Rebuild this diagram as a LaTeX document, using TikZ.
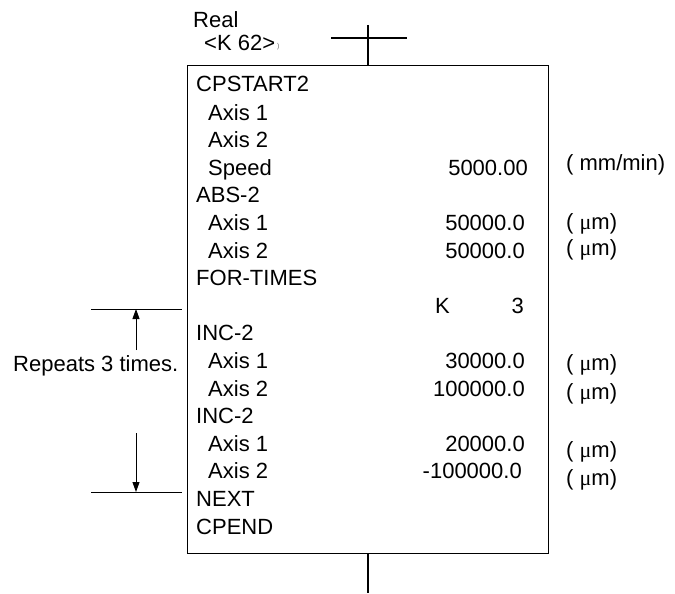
\documentclass[tikz,border=0pt]{standalone}
\usepackage{fontspec}
\setmainfont{Liberation Sans}
\newfontfamily\greekfont{Liberation Serif}
\usepackage{tikz}
\usetikzlibrary{arrows.meta}

\begin{document}
\begin{tikzpicture}[
    x=1pt, y=-1pt,
    every node/.style={inner sep=0pt, font=\fontsize{22}{26}\selectfont},
    cmd/.style={anchor=base west},
    sub/.style={anchor=base west, xshift=12pt},
    val/.style={anchor=base east},
    unit/.style={anchor=base west},
    progbox/.style={draw, line width=1pt, minimum width=361pt,
                    minimum height=488pt, anchor=north west},
    flow/.style={draw, line width=1.6pt},
    thin/.style={draw, line width=0.9pt},
    loop/.style={draw, line width=0.9pt, -{Triangle[length=10pt, width=7pt]}},
]
\useasboundingbox (0,0) rectangle (675,594);

% header above the program box
\node [cmd] (real) at (193,28) {Real};
\node [cmd] (kaddr) at (204,51) {<K 62>};
\node [anchor=base west, font=\fontsize{7}{8}\selectfont, text=black!60] (tick) at (277,49) {)};

\node [progbox] (prog) at (187,65) {};

\coordinate (inTop) at (prog.north |- 0,25);
\coordinate (crossL) at (331,38);
\coordinate (crossR) at (407,38);
\coordinate (outBot) at (prog.south |- 0,593);
\draw [flow] (inTop) -- (prog.north);
\draw [flow] (crossL) -- (crossR);
\draw [flow] (prog.south) -- (outBot);

% program lines
\node [cmd] (cpstart) at (196,92) {CPSTART2};
\node [sub] (sAx1) at (196,120) {Axis 1};
\node [sub] (sAx2) at (196,147) {Axis 2};
\node [sub] (speed) at (196,175) {Speed};
\node [cmd] (abs) at (196,202) {ABS-2};
\node [sub] (aAx1) at (196,230) {Axis 1};
\node [sub] (aAx2) at (196,258) {Axis 2};
\node [cmd] (fortimes) at (196,285) {FOR-TIMES};
\node [cmd] (kdev) at (435,313) {K};
\node [val] (kcount) at (524,313) {3};
\node [cmd] (incA) at (196,340) {INC-2};
\node [sub] (iAx1) at (196,368) {Axis 1};
\node [sub] (iAx2) at (196,396) {Axis 2};
\node [cmd] (incB) at (196,423) {INC-2};
\node [sub] (jAx1) at (196,451) {Axis 1};
\node [sub] (jAx2) at (196,478) {Axis 2};
\node [cmd] (next) at (196,506) {NEXT};
\node [cmd] (cpend) at (196,534) {CPEND};

% set values
\node [val] (vSpeed) at (528,175) {5000.00};
\node [val] (vaAx1) at (525,230) {50000.0};
\node [val] (vaAx2) at (525,258) {50000.0};
\node [val] (viAx1) at (525,368) {30000.0};
\node [val] (viAx2) at (525,396) {100000.0};
\node [val] (vjAx1) at (525,451) {20000.0};
\node [val] (vjAx2) at (522,478) {-100000.0};

% units
\node [unit] (uSpeed) at (566,170) {( mm/min)};
\node [unit] (uaAx1) at (566,229) {( {\greekfont μ}m)};
\node [unit] (uaAx2) at (566,255) {( {\greekfont μ}m)};
\node [unit] (uiAx1) at (566,370) {( {\greekfont μ}m)};
\node [unit] (uiAx2) at (566,399) {( {\greekfont μ}m)};
\node [unit] (ujAx1) at (566,457) {( {\greekfont μ}m)};
\node [unit] (ujAx2) at (566,485) {( {\greekfont μ}m)};

% repeat range
\node [cmd] (repeats) at (13,371) {Repeats 3 times.};
\coordinate (loopTopL) at (91,309);
\coordinate (loopTopR) at (182,309);
\coordinate (loopBotL) at (91,492);
\coordinate (loopBotR) at (182,492);
\coordinate (loopTop) at (136,309);
\coordinate (loopBot) at (136,492);
\coordinate (upStart) at (136,350);
\coordinate (downStart) at (136,433);
\draw [thin] (loopTopL) -- (loopTopR);
\draw [thin] (loopBotL) -- (loopBotR);
\draw [loop] (upStart) -- (loopTop);
\draw [loop] (downStart) -- (loopBot);

\end{tikzpicture}
\end{document}
